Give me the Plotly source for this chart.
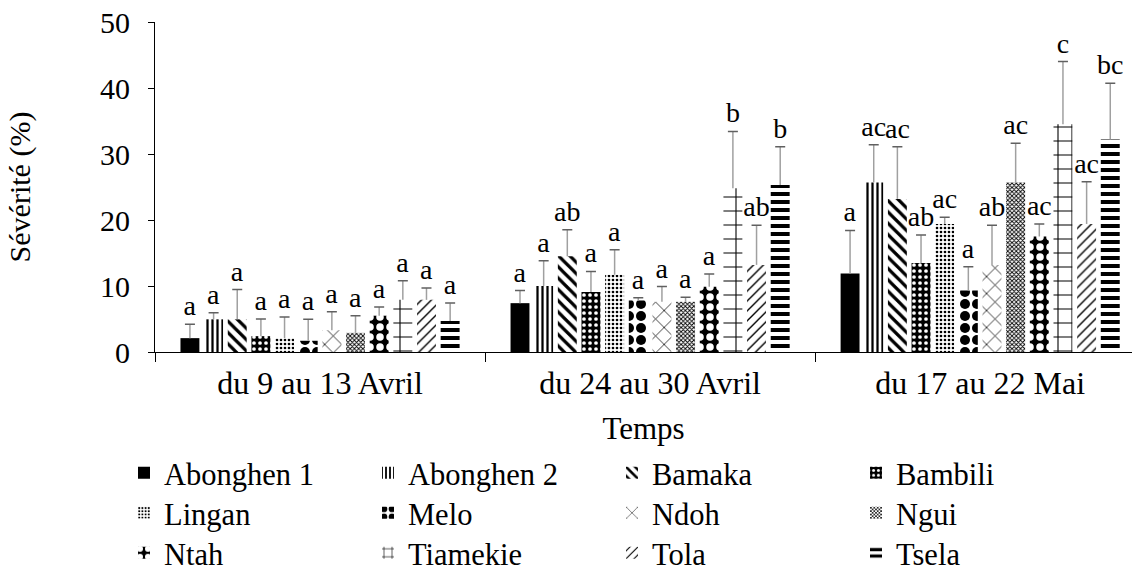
import plotly.graph_objects as go

periods = ["du 9 au 13 Avril", "du 24 au 30 Avril", "du 17 au 22 Mai"]
varieties = ["Abonghen 1", "Abonghen 2", "Bamaka", "Bambili", "Lingan", "Melo",
             "Ndoh", "Ngui", "Ntah", "Tiamekie", "Tola", "Tsela"]

# mean severity (%) per variety, one value per period
abonghen1 = [2.1, 7.4, 11.9]
abonghen2 = [4.95, 10.0, 25.7]
bamaka = [4.95, 14.5, 23.2]
bambili = [2.4, 9.1, 13.5]
lingan = [2.1, 11.7, 19.4]
melo = [1.7, 7.8, 9.3]
ndoh = [3.3, 7.6, 13.2]
ngui = [2.9, 7.6, 25.7]
ntah = [5.5, 9.9, 17.5]
tiamekie = [7.9, 24.8, 34.5]
tola = [7.9, 13.2, 19.4]
tsela = [4.7, 25.3, 32.2]

# upper error (standard deviation)
err_abonghen1 = [2.1, 1.9, 6.5]
err_abonghen2 = [1.0, 3.8, 5.7]
err_bamaka = [4.5, 4.0, 7.9]
err_bambili = [2.6, 3.1, 4.2]
err_lingan = [3.2, 3.8, 1.0]
err_melo = [3.25, 0.4, 3.6]
err_ndoh = [2.8, 2.3, 6.0]
err_ngui = [2.6, 0.7, 5.9]
err_ntah = [1.3, 1.9, 1.9]
err_tiamekie = [2.9, 8.6, 9.5]
err_tola = [1.8, 6.0, 6.4]
err_tsela = [2.7, 5.8, 8.5]

# significance letters
lab_abonghen1 = ["a", "a", "a"]
lab_abonghen2 = ["a", "a", "ac"]
lab_bamaka = ["a", "ab", "ac"]
lab_bambili = ["a", "a", "ab"]
lab_lingan = ["a", "a", "ac"]
lab_melo = ["a", "a", "a"]
lab_ndoh = ["a", "a", "ab"]
lab_ngui = ["a", "a", "ac"]
lab_ntah = ["a", "a", "ac"]
lab_tiamekie = ["a", "b", "c"]
lab_tola = ["a", "ab", "ac"]
lab_tsela = ["a", "b", "bc"]

values = [abonghen1, abonghen2, bamaka, bambili, lingan, melo, ndoh, ngui, ntah, tiamekie, tola, tsela]
errors = [err_abonghen1, err_abonghen2, err_bamaka, err_bambili, err_lingan, err_melo,
          err_ndoh, err_ngui, err_ntah, err_tiamekie, err_tola, err_tsela]
letters = [lab_abonghen1, lab_abonghen2, lab_bamaka, lab_bambili, lab_lingan, lab_melo,
           lab_ndoh, lab_ngui, lab_ntah, lab_tiamekie, lab_tola, lab_tsela]

# fill patterns (shape, fg, bg, size, solidity)
patterns = [
    ("", "black", "black", 8, 0.5),
    ("|", "black", "white", 5, 0.45),
    ("\\", "black", "white", 8, 0.4),
    (".", "white", "black", 6, 0.3),
    (".", "black", "white", 4, 0.35),
    (".", "black", "white", 12, 0.55),
    ("x", "black", "white", 12, 0.12),
    ("x", "black", "white", 3, 0.5),
    (".", "white", "black", 10, 0.45),
    ("+", "black", "white", 14, 0.15),
    ("/", "black", "white", 7, 0.2),
    ("-", "black", "white", 8, 0.5),
]

FONT = "Liberation Serif, Times New Roman, serif"
W, H = 1132, 582

fig = go.Figure()
legends = ["legend", "legend2", "legend3"]
for i, name in enumerate(varieties):
    shape, fg, bg, size, sol = patterns[i]
    marker = dict(color="black" if shape == "" else bg, line=dict(width=0))
    if shape:
        marker["pattern"] = dict(shape=shape, fgcolor=fg, bgcolor=bg, size=size,
                                 solidity=sol, fillmode="replace")
    fig.add_trace(go.Bar(
        x=periods, y=values[i], name=name, offsetgroup=name,
        marker=marker, legend=legends[i // 4],
        error_y=dict(type="data", array=errors[i], arrayminus=[0] * len(errors[i]),
                     symmetric=False, color="#a0a0a0", thickness=1.5, width=0),
    ))

for i, name in enumerate(varieties):
    tops = [v + e for v, e in zip(values[i], errors[i])]
    fig.add_trace(go.Bar(
        x=periods, y=[0.01] * len(tops), base=tops, offsetgroup=name,
        marker=dict(color="rgba(0,0,0,0)", line=dict(width=0)),
        text=letters[i], textposition="outside", constraintext="none",
        textfont=dict(family=FONT, size=28, color="black"),
        error_y=dict(type="data", array=[0] * len(tops), arrayminus=[0] * len(tops),
                     symmetric=False, color="#606060", thickness=1.5, width=5),
        cliponaxis=False, showlegend=False, hoverinfo="skip",
    ))

legend_common = dict(orientation="h", xref="container", yref="container",
                     xanchor="left", yanchor="middle",
                     entrywidth=199, entrywidthmode="pixels", itemwidth=30,
                     font=dict(family=FONT, size=30.5, color="black"),
                     bgcolor="rgba(0,0,0,0)")
fig.update_layout(
    width=W, height=H,
    margin=dict(l=155, r=0, t=22, b=230),
    paper_bgcolor="white", plot_bgcolor="white",
    barmode="group", bargap=0.14, bargroupgap=0.2,
    font=dict(family=FONT, size=30, color="black"),
    xaxis=dict(range=[-0.5, 2.46], showline=True, linecolor="black", linewidth=1,
               ticks="outside", tickson="boundaries", ticklen=9, tickcolor="black",
               ticklabelstandoff=3,
               title=dict(text="Temps", standoff=20, font=dict(size=31)),
               tickfont=dict(size=32), showgrid=False, automargin=False),
    yaxis=dict(range=[0, 50], dtick=10, showline=True, linecolor="black", linewidth=1,
               ticks="outside", ticklen=6, tickcolor="black", ticklabelstandoff=12,
               ticklabeloverflow="allow",
               title=dict(text="Sévérité (%)", standoff=60, font=dict(size=30)),
               tickfont=dict(size=30), showgrid=False, zeroline=False, automargin=False),
    legend=dict(legend_common, x=124 / W, y=1 - 473 / H),
    legend2=dict(legend_common, x=124 / W, y=1 - 513 / H),
    legend3=dict(legend_common, x=124 / W, y=1 - 553 / H),
)

fig.write_html("out.html", config={"displayModeBar": False},
               post_script="document.body.style.margin='0px';document.body.style.overflow='hidden';")
